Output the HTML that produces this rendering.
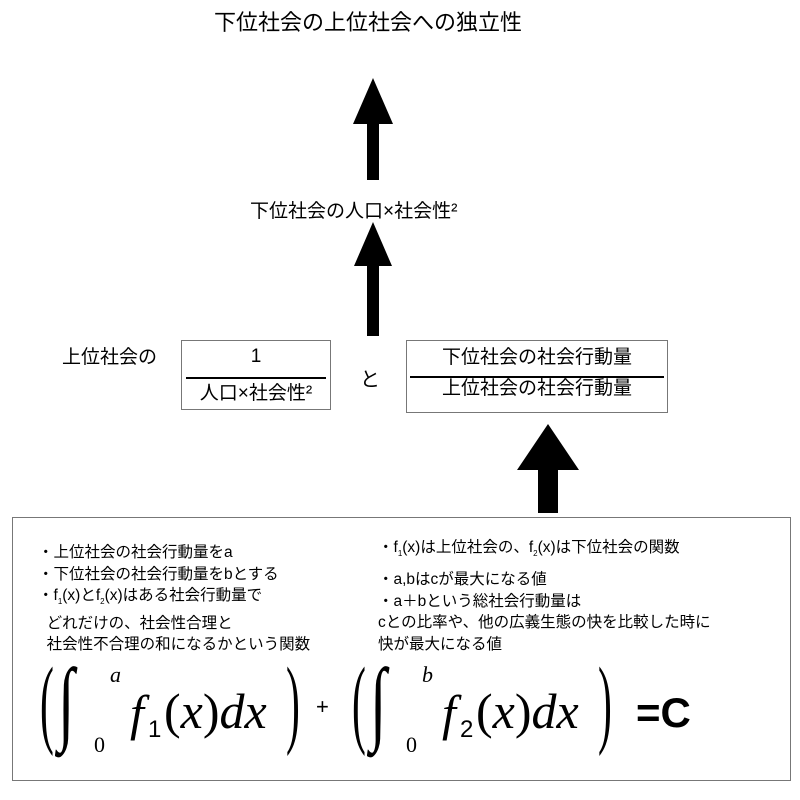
<!DOCTYPE html>
<html><head><meta charset="utf-8"><style>
body{margin:0;width:800px;height:800px;background:#fff;position:relative;overflow:hidden;font-family:"Liberation Sans","Noto Sans CJK JP",sans-serif;color:#000}
.t{position:absolute;white-space:nowrap;line-height:1}
.box{position:absolute;border:1.5px solid #777;box-sizing:border-box}
.m{font-family:"Liberation Serif",serif;font-style:italic}
.p{font-family:"Liberation Serif",serif;font-size:52px;transform:scaleY(1.9) scaleX(0.8);transform-origin:top left}
</style></head><body>
<div class="t" style="left:214px;top:12px;font-size:22px">下位社会の上位社会への独立性</div>
<svg style="position:absolute;left:0;top:0" width="800" height="800">
<polygon points="373,78 353,124 367,124 367,180 379,180 379,124 393,124" fill="#000"/>
<polygon points="373,222 354,266 367,266 367,336 379,336 379,266 392,266" fill="#000"/>
<polygon points="548,424 517,470 538,470 538,513 558,513 558,470 579,470" fill="#000"/>
</svg>
<div class="t" style="left:250px;top:202px;font-size:19px">下位社会の人口×社会性²</div>
<div class="t" style="left:62px;top:348px;font-size:19px">上位社会の</div>
<div class="box" style="left:181px;top:340px;width:150px;height:70px"></div>
<div class="t" style="left:181px;top:347px;width:150px;text-align:center;font-size:19px">1</div>
<div style="position:absolute;left:186px;top:377px;width:140px;height:1.5px;background:#000"></div>
<div class="t" style="left:181px;top:384px;width:150px;text-align:center;font-size:19px">人口×社会性²</div>
<div class="t" style="left:360px;top:370px;font-size:20px">と</div>
<div class="box" style="left:406px;top:340px;width:262px;height:73px"></div>
<div class="t" style="left:406px;top:348px;width:262px;text-align:center;font-size:19px">下位社会の社会行動量</div>
<div style="position:absolute;left:410px;top:376px;width:254px;height:1.5px;background:#000"></div>
<div class="t" style="left:406px;top:379px;width:262px;text-align:center;font-size:19px">上位社会の社会行動量</div>
<div class="box" style="left:12px;top:517px;width:779px;height:264px"></div>
<div class="t" style="left:38px;top:542px;font-size:15.5px;line-height:21.5px">・上位社会の社会行動量をa<br>・下位社会の社会行動量をbとする<br>・f<sub style="font-size:8px">1</sub>(x)とf<sub style="font-size:8px">2</sub>(x)はある社会行動量で<br>&nbsp;&nbsp;どれだけの、社会性合理と<br>&nbsp;&nbsp;社会性不合理の和になるかという関数</div>
<div class="t" style="left:378px;top:540px;font-size:15.5px">・f<sub style="font-size:8px">1</sub>(x)は上位社会の、f<sub style="font-size:8px">2</sub>(x)は下位社会の関数</div>
<div class="t" style="left:378px;top:569px;font-size:15.5px;line-height:21.5px">・a,bはcが最大になる値<br>・a＋bという総社会行動量は<br>cとの比率や、他の広義生態の快を比較した時に<br>快が最大になる値</div>
<div class="t p" style="left:40px;top:655px">(</div>
<div class="t m" style="left:58px;top:655px;font-size:60px;transform:scaleY(1.55);transform-origin:top left">∫</div>
<div class="t m" style="left:110px;top:664px;font-size:22px">a</div>
<div class="t m" style="left:94px;top:734px;font-size:22px;font-style:normal">0</div>
<div class="t m" style="left:130px;top:688px;font-size:50px">f</div>
<div class="t" style="left:148px;top:718px;font-size:24px">1</div>
<div class="t m" style="left:164px;top:686px;font-size:50px"><span style="font-style:normal">(</span>x<span style="font-style:normal">)</span>dx</div>
<div class="t p" style="left:286px;top:655px">)</div>
<div class="t" style="left:316px;top:696px;font-size:22px">+</div>
<div class="t p" style="left:352px;top:655px">(</div>
<div class="t m" style="left:370px;top:655px;font-size:60px;transform:scaleY(1.55);transform-origin:top left">∫</div>
<div class="t m" style="left:422px;top:664px;font-size:22px">b</div>
<div class="t m" style="left:406px;top:734px;font-size:22px;font-style:normal">0</div>
<div class="t m" style="left:442px;top:688px;font-size:50px">f</div>
<div class="t" style="left:460px;top:718px;font-size:24px">2</div>
<div class="t m" style="left:476px;top:686px;font-size:50px"><span style="font-style:normal">(</span>x<span style="font-style:normal">)</span>dx</div>
<div class="t p" style="left:598px;top:655px">)</div>
<div class="t" style="left:636px;top:692px;font-size:42px;font-weight:bold">=C</div>
</body></html>
